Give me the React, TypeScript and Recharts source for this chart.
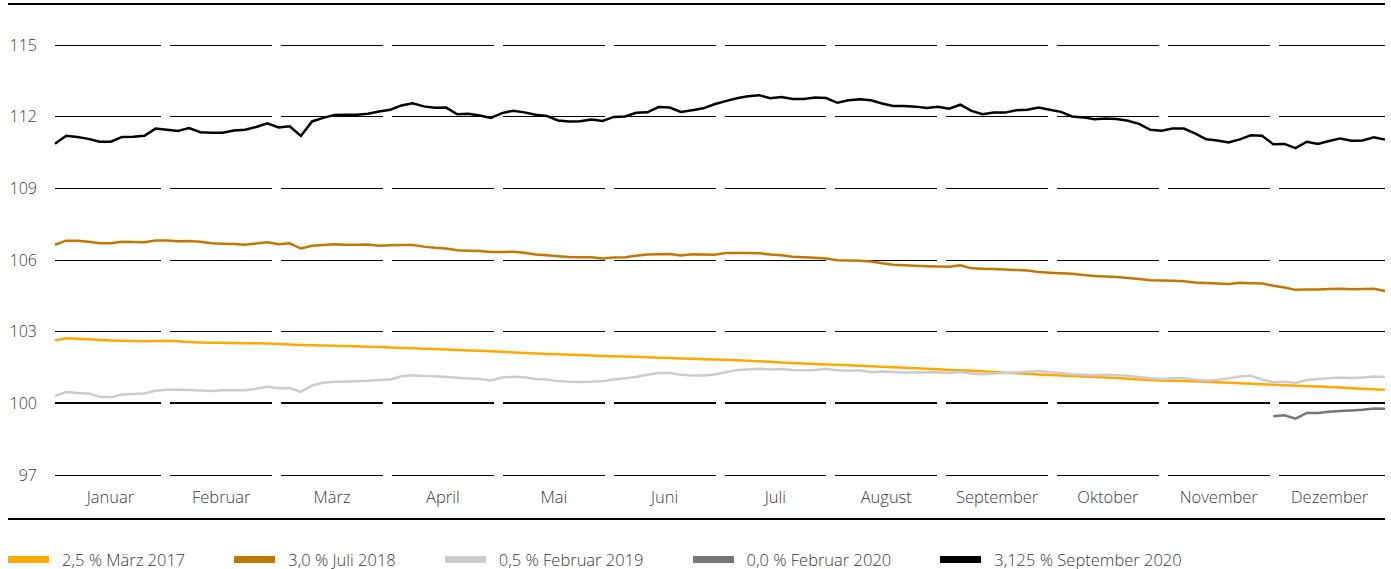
import { LineChart, Line, XAxis, YAxis, ReferenceLine } from "recharts";

const MONTHS = [
  "Januar", "Februar", "März", "April", "Mai", "Juni",
  "Juli", "August", "September", "Oktober", "November", "Dezember",
];

const Y_TICKS = [97, 100, 103, 106, 109, 112, 115];

// 2,5 % März 2017
const BOND_2017 = [
  102.63, 102.72, 102.7, 102.68, 102.65, 102.63, 102.62, 102.61, 102.6, 102.61,
  102.62, 102.6, 102.57, 102.55, 102.54, 102.54, 102.53, 102.52, 102.52, 102.5,
  102.48, 102.46, 102.44, 102.43, 102.42, 102.41, 102.4, 102.39, 102.37, 102.36,
  102.34, 102.32, 102.31, 102.29, 102.27, 102.25, 102.23, 102.21, 102.2, 102.18,
  102.16, 102.13, 102.11, 102.09, 102.07, 102.05, 102.03, 102.02, 102.0, 101.98,
  101.97, 101.96, 101.95, 101.93, 101.91, 101.9, 101.88, 101.87, 101.85, 101.83,
  101.82, 101.8, 101.78, 101.76, 101.74, 101.71, 101.69, 101.67, 101.65, 101.63,
  101.61, 101.59, 101.57, 101.55, 101.53, 101.51, 101.49, 101.47, 101.45, 101.43,
  101.4, 101.38, 101.36, 101.34, 101.31, 101.28, 101.26, 101.24, 101.21, 101.19,
  101.17, 101.14, 101.12, 101.1, 101.08, 101.06, 101.03, 101.0, 100.98, 100.96,
  100.95, 100.93, 100.92, 100.9, 100.88, 100.86, 100.84, 100.82, 100.8, 100.78,
  100.76, 100.74, 100.72, 100.7, 100.68, 100.66, 100.63, 100.61, 100.59, 100.57,
];

// 3,0 % Juli 2018
const BOND_2018 = [
  106.64, 106.81, 106.81, 106.76, 106.7, 106.7, 106.76, 106.75, 106.74, 106.82,
  106.82, 106.78, 106.8, 106.76, 106.7, 106.68, 106.67, 106.64, 106.69, 106.74,
  106.66, 106.7, 106.48, 106.6, 106.63, 106.66, 106.64, 106.64, 106.65, 106.6,
  106.62, 106.63, 106.63, 106.56, 106.51, 106.48, 106.41, 106.39, 106.38, 106.33,
  106.33, 106.35, 106.3, 106.23, 106.2, 106.16, 106.13, 106.12, 106.11, 106.06,
  106.1, 106.12, 106.18, 106.23, 106.24, 106.25, 106.19, 106.24, 106.23, 106.22,
  106.29, 106.29, 106.29, 106.28, 106.23, 106.2, 106.14, 106.12, 106.09, 106.06,
  105.99, 105.98, 105.97, 105.94, 105.86, 105.8, 105.78, 105.76, 105.74, 105.73,
  105.72, 105.78, 105.65, 105.63, 105.62, 105.6, 105.58, 105.56, 105.5, 105.47,
  105.45, 105.42, 105.37, 105.33, 105.31, 105.29, 105.25, 105.2, 105.15, 105.14,
  105.13, 105.11, 105.06, 105.04, 105.02, 105.0, 105.05, 105.03, 105.02, 104.92,
  104.85, 104.75, 104.76, 104.77, 104.79, 104.8, 104.78, 104.79, 104.8, 104.7,
];

// 0,5 % Februar 2019
const BOND_2019 = [
  100.31, 100.47, 100.43, 100.41, 100.28, 100.25, 100.37, 100.39, 100.41, 100.53,
  100.57, 100.57, 100.56, 100.54, 100.52, 100.55, 100.55, 100.55, 100.61, 100.69,
  100.63, 100.64, 100.48, 100.75, 100.86, 100.9, 100.9, 100.92, 100.95, 100.98,
  101.0, 101.13, 101.18, 101.14, 101.13, 101.1, 101.07, 101.04, 101.02, 100.96,
  101.08, 101.11, 101.09, 101.02, 101.0, 100.93, 100.9, 100.89, 100.9, 100.93,
  101.0, 101.05, 101.1, 101.2, 101.27, 101.27, 101.2, 101.16, 101.17, 101.21,
  101.3, 101.4, 101.42, 101.45, 101.42, 101.44, 101.4, 101.38, 101.4, 101.45,
  101.38, 101.36, 101.38, 101.3, 101.33, 101.31, 101.28, 101.3, 101.29, 101.3,
  101.27, 101.31, 101.25, 101.22, 101.25, 101.27, 101.3, 101.32, 101.35, 101.3,
  101.27, 101.22, 101.2, 101.18, 101.2, 101.18, 101.15, 101.1, 101.05, 101.02,
  101.05, 101.05, 101.0, 100.96, 100.98, 101.05, 101.12, 101.15, 101.0, 100.88,
  100.9, 100.85, 100.98, 101.02, 101.05, 101.08, 101.06, 101.08, 101.12, 101.1,
];

// 0,0 % Februar 2020 (quoted only from December on)
const BOND_2020A_START = 109;
const BOND_2020A = [99.46, 99.5, 99.36, 99.6, 99.6, 99.65, 99.68, 99.7, 99.73, 99.78, 99.77];

// 3,125 % September 2020
const BOND_2020B = [
  110.87, 111.2, 111.15, 111.07, 110.95, 110.95, 111.15, 111.16, 111.2, 111.5,
  111.45, 111.4, 111.52, 111.35, 111.33, 111.33, 111.42, 111.45, 111.57, 111.72,
  111.55, 111.6, 111.19, 111.8, 111.95, 112.07, 112.08, 112.08, 112.12, 112.22,
  112.29, 112.47, 112.56, 112.43, 112.37, 112.38, 112.1, 112.12, 112.05, 111.95,
  112.15, 112.25, 112.18, 112.08, 112.03, 111.84, 111.8, 111.81, 111.88, 111.82,
  111.99, 112.01, 112.16, 112.18, 112.4, 112.38, 112.2, 112.27, 112.35, 112.52,
  112.65, 112.77, 112.85, 112.9, 112.77, 112.82, 112.74, 112.74, 112.8, 112.78,
  112.58, 112.69, 112.73, 112.69, 112.55, 112.45, 112.45, 112.42, 112.36, 112.41,
  112.33, 112.5, 112.24, 112.1, 112.17, 112.17, 112.27, 112.29, 112.38, 112.29,
  112.2, 112.01, 111.97, 111.89, 111.92, 111.9, 111.83, 111.7, 111.45, 111.41,
  111.5, 111.5, 111.3, 111.05, 111.0, 110.92, 111.05, 111.22, 111.2, 110.85,
  110.86, 110.68, 110.95, 110.86, 110.98, 111.09, 110.99, 111.0, 111.14, 111.04,
];

const SERIES = [
  { key: "b2017", name: "2,5 % März 2017", color: "#FFA800" },
  { key: "b2018", name: "3,0 % Juli 2018", color: "#C27800" },
  { key: "b2019", name: "0,5 % Februar 2019", color: "#CCCCCC" },
  { key: "b2020a", name: "0,0 % Februar 2020", color: "#777777" },
  { key: "b2020b", name: "3,125 % September 2020", color: "#000000" },
];

const data = BOND_2020B.map((_, i) => ({
  t: i,
  b2017: BOND_2017[i],
  b2018: BOND_2018[i],
  b2019: BOND_2019[i],
  b2020a: i >= BOND_2020A_START ? BOND_2020A[i - BOND_2020A_START] : null,
  b2020b: BOND_2020B[i],
}));

const LAST = data.length - 1;
const PLOT_W = 1330;
const perMonth = LAST / MONTHS.length;
const gap = (4.5 * LAST) / PLOT_W; // half of the gap between month segments, in index units
const monthTicks = MONTHS.map((_, m) => (m + 0.5) * perMonth);

const FONT = "'Open Sans', 'Noto Sans', sans-serif";
const TEXT = "#3a3a3a";

export default function App() {
  return (
    <div style={{ position: "relative", width: 1391, height: 569, fontFamily: FONT, background: "#fff" }}>
      <style>{"body{margin:0}"}</style>
      <div style={{ position: "absolute", left: 8, top: 3, width: 1377, height: 2, background: "#000" }} />
      <LineChart
        width={1391}
        height={530}
        data={data}
        margin={{ top: 45, right: 6, left: 0, bottom: 0 }}
      >
        <XAxis
          dataKey="t"
          type="number"
          domain={[0, LAST]}
          ticks={monthTicks}
          tickFormatter={(v: number) => MONTHS[Math.floor(v / perMonth)]}
          axisLine={false}
          tickLine={false}
          tickSize={0}
          tickMargin={16}
          height={55}
          interval={0}
          tick={{ fontSize: 16.5, fill: TEXT, fontWeight: 300 }}
        />
        <YAxis
          domain={[97, 115]}
          ticks={Y_TICKS}
          axisLine={false}
          tickLine={false}
          tickSize={0}
          tickMargin={18}
          width={55}
          tick={{ fontSize: 16, fill: TEXT, fontWeight: 300 }}
        />
        {Y_TICKS.map((y) =>
          MONTHS.map((_, m) => (
            <ReferenceLine
              key={`g-${y}-${m}`}
              segment={[
                { x: m === 0 ? 0 : m * perMonth + gap, y },
                { x: m === MONTHS.length - 1 ? LAST : (m + 1) * perMonth - gap, y },
              ]}
              stroke="#000"
              strokeWidth={y === 100 ? 2 : 1}
              shapeRendering="crispEdges"
            />
          ))
        )}
        {SERIES.map((s) => (
          <Line
            key={s.key}
            type="linear"
            dataKey={s.key}
            name={s.name}
            stroke={s.color}
            strokeWidth={2.5}
            dot={false}
            activeDot={false}
            connectNulls={false}
            isAnimationActive={false}
          />
        ))}
      </LineChart>
      <div style={{ position: "absolute", left: 8, top: 518, width: 1377, height: 2, background: "#000" }} />
      <div
        style={{
          position: "absolute",
          left: 8,
          top: 548,
          display: "flex",
          alignItems: "center",
          fontSize: 16.5,
          fontWeight: 300,
          color: TEXT,
          whiteSpace: "nowrap",
        }}
      >
        {SERIES.map((s) => (
          <div key={s.key} style={{ display: "flex", alignItems: "center", marginRight: 49 }}>
            <span style={{ width: 41, height: 7, background: s.color, marginRight: 13 }} />
            <span>{s.name}</span>
          </div>
        ))}
      </div>
    </div>
  );
}
